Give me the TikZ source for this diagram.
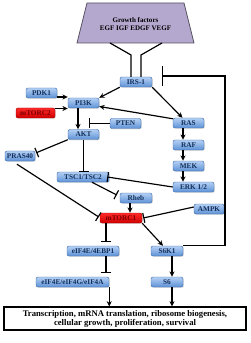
\documentclass[tikz,border=0pt]{standalone}
\usepackage{fontspec}
\setmainfont{Liberation Serif}
\usetikzlibrary{arrows.meta,calc,shadows}
\definecolor{boxtop}{HTML}{B4D0F4}
\definecolor{boxbot}{HTML}{5D91D6}
\definecolor{boxborder}{HTML}{3C6BA8}
\definecolor{boxtext}{HTML}{14305A}
\definecolor{redtop}{HTML}{FF2A2A}
\definecolor{redbot}{HTML}{D00000}
\definecolor{redborder}{HTML}{A00000}
\definecolor{redtext}{HTML}{7A0000}
\definecolor{gffill}{HTML}{B5A8CE}
\definecolor{gfborder}{HTML}{555060}
\begin{document}
\begin{tikzpicture}[x=0.3mm,y=-0.3mm,
  wd/.style={minimum width=#1*0.3mm},
  bbox/.style={draw=boxborder, line width=0.4pt, rounded corners=0.6mm,
    top color=boxtop, bottom color=boxbot, text=boxtext,
    font=\fontsize{6.2}{7}\selectfont\bfseries, minimum height=3mm, inner sep=0pt,
    drop shadow={opacity=0.25, shadow xshift=0.25mm, shadow yshift=-0.25mm}},
  rbox/.style={bbox, draw=redborder, top color=redtop, bottom color=redbot, text=redtext},
  conn/.style={line width=1pt, black},
  arr/.style={conn, -{Stealth[length=1.6mm,width=1.5mm]}},
  inh/.style={conn, -{Bar[width=3mm]}},
  biginh/.style={conn, -{Bar[width=6mm]}}
]
\useasboundingbox (0,0) rectangle (250,343);

% growth factor trapezoid
\draw[fill=gffill, draw=gfborder, line width=0.7pt] (87,3) -- (184,3) -- (194,43) -- (77,43) -- cycle;
\node[font=\fontsize{6}{7}\selectfont\bfseries, align=center] (gf) at (135.5,24) {Growth factors\\EGF IGF EDGF VEGF};

% nodes
\node[bbox, wd=32] (irs) at (136,82) {IRS-1};
\node[bbox, wd=31] (pdk1) at (41.5,93) {PDK1};
\node[bbox, wd=31] (pi3k) at (83.5,103) {PI3K};
\node[rbox, wd=39] (mtorc2) at (35.5,113) {mTORC2};
\node[bbox, wd=31] (ras) at (188.5,123) {RAS};
\node[bbox, wd=31] (pten) at (125.5,123.5) {PTEN};
\node[bbox, wd=31] (akt) at (83.5,134.5) {AKT};
\node[bbox, wd=31] (raf) at (188.5,145) {RAF};
\node[bbox, wd=31] (mek) at (188.5,166) {MEK};
\node[bbox, wd=41] (erk) at (193.5,187) {ERK 1/2};
\node[bbox, wd=30] (pras) at (20,156) {PRAS40};
\node[bbox, wd=52] (tsc) at (83,177) {TSC1/TSC2};
\node[bbox, wd=32] (rheb) at (136,198) {Rheb};
\node[bbox, wd=30] (ampk) at (209,209) {AMPK};
\node[rbox, wd=42] (mtorc1) at (121,218) {mTORC1};
\node[bbox, wd=52] (eb) at (93,251) {eIF4E/4EBP1};
\node[bbox, wd=32] (s6k1) at (167,251) {S6K1};
\node[bbox, wd=73] (eg) at (72.5,282) {eIF4E/eIF4G/eIF4A};
\node[bbox, wd=32] (s6) at (167,282) {S6};
\node[draw=black, line width=0.9pt, minimum width=242*0.3mm, minimum height=23*0.3mm,
  inner sep=0pt, align=center, font=\fontsize{7.4}{7.6}\selectfont\bfseries] (out) at (125,318.5)
  {Transcription, mRNA translation, ribosome biogenesis,\\cellular growth, proliferation, survival};

% receptor legs
\coordinate (legl) at (110,43);
\coordinate (legr) at (162,43);
\coordinate (kl) at (131,55);
\coordinate (kr) at (141,55);
\draw[conn] (legl) -- (kl) -- (kl |- irs.north);
\draw[conn] (legr) -- (kr) -- (kr |- irs.north);

% helper coordinates
\coordinate (mekout) at (183,171);
\coordinate (rhebout) at (130,203);
\coordinate (s6out) at (172,287);
\coordinate (s6kout) at (172,256);

% connectors
\draw[arr] (irs.south west) -- (pi3k.north east);
\draw[arr] (irs.south east) -- ($(ras.north)+(-6,0)$);
\draw[arr] ($(ras.north west)+(0,1)$) -- ($(pi3k.east)+(0,3.5)$);
\draw[arr] ($(ras.south)+(-5.5,0)$) -- ($(raf.north)+(-5.5,0)$);
\draw[arr] ($(raf.south)+(-5.5,0)$) -- ($(mek.north)+(-5.5,0)$);
\draw[arr] (mekout) -- (mekout |- erk.north);
\draw[arr] ($(pdk1.east)+(0,4)$) -- ($(pi3k.west)+(0,-6)$);
\draw[arr] ($(mtorc2.east)+(0,-4.5)$) -- ($(pi3k.west)+(0,5.5)$);
\draw[arr] ($(pi3k.south)+(-5.5,0)$) -- ($(akt.north)+(-5.5,0)$);
\coordinate (ptenend) at (88.5,123.5);
\draw[inh] (pten.west) -- (ptenend);
\draw[inh] (akt.south west) -- ($(pras.north east)+(1,2)$);
\draw[inh] (akt.south) -- (akt.south |- tsc.north);
\draw[inh] (erk.west) -- ($(tsc.east)+(-2,0)$);
\draw[inh] ($(tsc.south)+(9,0)$) -- ($(rheb.west)+(-3,-3)$);
\draw[arr] (rhebout) -- (rhebout |- mtorc1.north);
\draw[inh] ($(ampk.west)+(0,-2)$) -- ($(mtorc1.east)+(1,0)$);
\draw[inh] ($(pras.south)+(-3,3)$) -- ($(mtorc1.west)+(-1,-1)$);
\coordinate (m1eb) at (106,242);
\draw[inh] ($(mtorc1.south)+(-15,0)$) -- (m1eb);
\draw[arr] (mtorc1.south east) -- ($(s6k1.north)+(-4,0)$);
\coordinate (ebeg) at (106,273);
\draw[inh] ($(eb.south)+(13,0)$) -- (ebeg);
\draw[arr] (s6kout) -- (s6kout |- s6.north);
\draw[arr] (eg.south east) -- (eg.south east |- out.north);
\draw[arr] (s6out) -- (s6out |- out.north);
\coordinate (irsend) at (162,76);
\coordinate (rtop) at (225,76);
\draw[biginh] (s6k1.north east) -- (rtop |- s6k1.north east) -- (rtop) -- (irsend);
\end{tikzpicture}
\end{document}
